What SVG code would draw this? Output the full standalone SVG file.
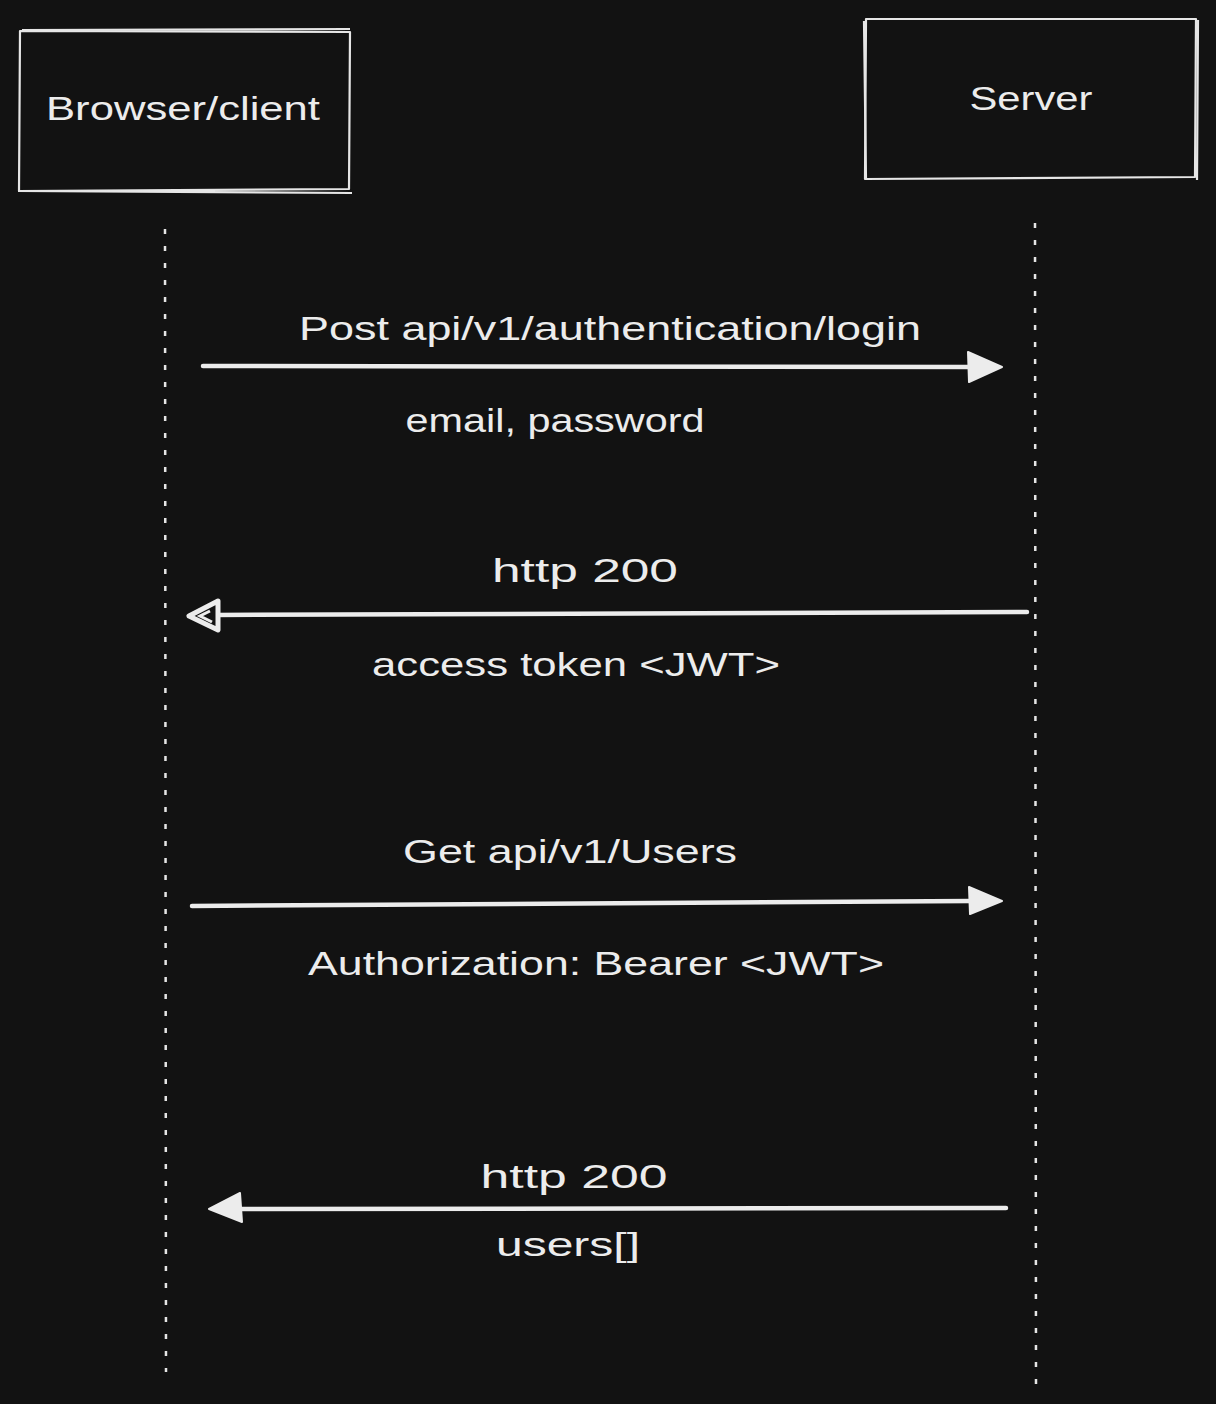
<svg xmlns="http://www.w3.org/2000/svg" width="1216" height="1404" viewBox="0 0 1216 1404">
<defs>
<style>
.bg{fill:#121212}
.box{fill:none;stroke:#e6e6e6;stroke-width:2.2;stroke-linejoin:round}
.life{stroke:#e6e6e6;stroke-width:2.5;stroke-dasharray:5 12;fill:none}
.msg{stroke:#ececec;stroke-width:4.5;fill:none;stroke-linecap:round}
.head{fill:#ececec;stroke:#ececec;stroke-width:2;stroke-linejoin:round}
.t{font-family:"Liberation Sans","DejaVu Sans",sans-serif;font-size:34px;fill:#ececec;text-anchor:middle}
</style>
</defs>
<rect class="bg" x="0" y="0" width="1216" height="1404"/>
<g id="node-browser">
<path class="box" d="M20 31 L350 32 L349 189 L19 191 Z"/>
<path class="box" d="M22 30 L350 29 M18 191 L352 193" stroke-width="1.2"/>
<text class="t" x="183" y="120" textLength="274" lengthAdjust="spacingAndGlyphs">Browser/client</text>
</g>
<g id="node-server">
<path class="box" d="M866 19 L1196 19 L1195 177 L865 179 Z"/>
<path class="box" d="M864 21 L866 180 M1198 20 L1197 180" stroke-width="1.2"/>
<text class="t" x="1031" y="110" textLength="123" lengthAdjust="spacingAndGlyphs">Server</text>
</g>
<g id="connectors">
<line class="life" x1="165" y1="229" x2="166" y2="1372"/>
<line class="life" x1="1035" y1="223" x2="1036" y2="1385"/>
<path class="msg" d="M203 366 L972 367"/>
<path class="head" d="M968 352 L1002 367 L969 382 Z"/>
<path class="msg" d="M1027 612 L215 615"/>
<path d="M218 601 L189 616 L218 630 Z" fill="#121212" stroke="#ececec" stroke-width="5" stroke-linejoin="round"/>
<path d="M210 611 L200 616 L212 622" fill="none" stroke="#ececec" stroke-width="3"/>
<path class="msg" d="M1006 1208 L240 1209"/>
<path class="head" d="M240 1193 L209 1209 L242 1222 Z"/>
<path class="msg" d="M192 906 L972 901"/>
<path class="head" d="M969 887 L1002 901 L970 914 Z"/>
</g>
<g id="labels">
<text class="t" x="610" y="340" textLength="622" lengthAdjust="spacingAndGlyphs">Post api/v1/authentication/login</text>
<text class="t" x="555" y="432" textLength="299" lengthAdjust="spacingAndGlyphs">email, password</text>
<text class="t" x="585" y="582" textLength="186" lengthAdjust="spacingAndGlyphs">http 200</text>
<text class="t" x="576" y="676" textLength="408" lengthAdjust="spacingAndGlyphs">access token &lt;JWT&gt;</text>
<text class="t" x="570" y="863" textLength="334" lengthAdjust="spacingAndGlyphs">Get api/v1/Users</text>
<text class="t" x="596" y="975" textLength="576" lengthAdjust="spacingAndGlyphs">Authorization: Bearer &lt;JWT&gt;</text>
<text class="t" x="574" y="1188" textLength="187" lengthAdjust="spacingAndGlyphs">http 200</text>
<text class="t" x="568" y="1256" textLength="144" lengthAdjust="spacingAndGlyphs">users[]</text>
</g>
</svg>
